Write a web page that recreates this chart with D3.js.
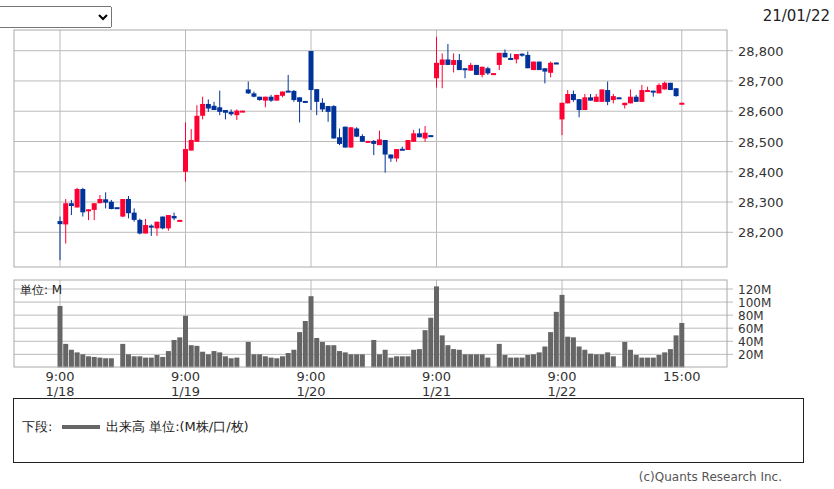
<!DOCTYPE html>
<html><head><meta charset="utf-8">
<script src="https://cdn.jsdelivr.net/npm/d3@7"></script>
<style>
body{margin:0;background:#fff;font-family:"DejaVu Sans",sans-serif;}
select{position:absolute;left:-2px;top:6px;width:114px;height:22px;font-size:12px;}
</style></head><body>
<select><option></option></select>
<svg id="c" width="834" height="489" style="position:absolute;left:0;top:0;pointer-events:none"></svg>
<script>
// OHLC per 15-min slot, 22 slots per day (slot 10 = lunch dash)
const opens = [
28237,28226,28296,28282,28343,28272,28274,28296,28309,28301,28283,28252,28310,28265,28241,28196,28222,28213,28252,28213,28254,28240,
28400,28470,28499,28585,28624,28618,28613,28604,28598,28587,28601,28672,28659,28648,28635,28648,28635,28651,28668,28667,28646,28634,
28799,28673,28628,28617,28617,28514,28549,28480,28543,28518,28501,28502,28488,28505,28457,28444,28476,28472,28499,28527,28510,28521,
28709,28753,28771,28753,28769,28742,28734,28753,28720,28742,28725,28753,28793,28776,28771,28790,28786,28736,28764,28742,28727,28761,
28573,28626,28657,28640,28604,28646,28631,28631,28670,28637,28646,28620,28626,28648,28631,28669,28668,28659,28672,28694,28676,28626];
const highs = [
28252,28310,28307,28347,28347,28276,28296,28323,28332,28307,28283,28310,28320,28279,28245,28244,28226,28235,28252,28257,28265,28241,
28563,28541,28620,28648,28639,28631,28668,28604,28606,28606,28602,28698,28665,28648,28648,28654,28654,28665,28720,28670,28646,28634,
28799,28673,28643,28617,28620,28543,28549,28547,28547,28524,28502,28505,28536,28505,28457,28475,28483,28505,28538,28543,28551,28521,
28846,28791,28822,28791,28789,28742,28760,28753,28747,28747,28726,28793,28804,28791,28789,28791,28797,28764,28764,28742,28764,28761,
28628,28670,28668,28640,28657,28657,28657,28672,28698,28657,28646,28628,28672,28654,28687,28681,28668,28692,28698,28694,28676,28628];
const lows = [
28108,28163,28257,28282,28252,28240,28240,28296,28279,28276,28282,28250,28246,28235,28193,28196,28188,28188,28210,28205,28240,28240,
28367,28470,28499,28573,28598,28604,28587,28573,28585,28571,28601,28657,28646,28635,28613,28631,28635,28646,28665,28631,28563,28633,
28604,28587,28598,28565,28510,28488,28480,28480,28514,28499,28501,28455,28488,28397,28433,28433,28474,28472,28499,28514,28499,28519,
28678,28676,28753,28728,28736,28709,28734,28720,28712,28720,28725,28736,28778,28769,28758,28780,28742,28736,28736,28692,28712,28759,
28521,28626,28631,28580,28604,28635,28631,28631,28620,28626,28645,28609,28626,28631,28631,28665,28648,28659,28672,28670,28648,28626];
const closes = [
28227,28296,28287,28343,28266,28276,28296,28310,28298,28277,28282,28310,28263,28241,28196,28224,28219,28235,28213,28257,28246,28241,
28475,28505,28585,28624,28609,28604,28598,28595,28590,28602,28602,28659,28648,28637,28648,28635,28654,28665,28666,28637,28631,28633,
28670,28631,28606,28598,28510,28492,28480,28547,28516,28499,28502,28492,28507,28457,28444,28475,28474,28505,28527,28514,28529,28519,
28760,28771,28753,28769,28736,28736,28753,28720,28747,28725,28726,28793,28778,28775,28789,28788,28742,28764,28736,28731,28760,28759,
28628,28657,28637,28604,28646,28635,28648,28672,28631,28650,28645,28628,28648,28631,28670,28670,28666,28687,28694,28670,28650,28628];
const volumes = [
94,36,27,23,20,17,16,15,14,14,0,36,20,17,17,15,15,19,16,25,42,46,
79,34,33,24,20,25,23,17,14,15,0,39,20,20,17,15,14,17,22,27,54,71,
109,45,39,34,34,25,23,20,20,20,0,42,20,27,15,17,17,17,27,28,57,76,
124,49,34,28,27,20,20,20,20,15,0,36,19,15,15,15,19,20,23,32,54,85,
111,47,46,32,27,21,20,20,23,17,0,39,27,19,15,15,15,19,23,28,49,68];
const priceTicks = [28200,28300,28400,28500,28600,28700,28800];
const volTicks = [20,40,60,80,100,120];
const timeLabels = ["9:00","9:00","9:00","9:00","9:00","15:00"];
const dateLabels = ["1/18","1/19","1/20","1/21","1/22",""];
const labelSlots = [0,22,44,66,88,109];

const svg = d3.select("#c");
const L=14,R=727;
const x = d3.scaleLinear().domain([0,109]).range([60,681.8]);
const y = d3.scaleLinear().domain([28800,28200]).range([50.7,232.3]);
const yv = d3.scaleLinear().domain([0,120]).range([367.4,289]);
const grid="#bbb";

const pg = svg.append("g");
priceTicks.forEach(t=>{
  pg.append("line").attr("x1",L).attr("x2",733).attr("y1",y(t)).attr("y2",y(t)).attr("stroke",grid);
  pg.append("text").attr("x",738).attr("y",y(t)+5).attr("font-size",13).attr("fill","#333").text(d3.format(",")(t));
});
labelSlots.forEach(s=>{
  pg.append("line").attr("x1",x(s)).attr("x2",x(s)).attr("y1",30).attr("y2",267).attr("stroke",grid);
});
pg.append("rect").attr("x",L).attr("y",30).attr("width",R-L).attr("height",237).attr("fill","none").attr("stroke","#aaa");

const up="#ff0033",dn="#003399";
closes.forEach((c,i)=>{
  const o=opens[i], col = c>=o?up:dn;
  pg.append("line").attr("x1",x(i)).attr("x2",x(i)).attr("y1",y(highs[i])).attr("y2",y(lows[i])).attr("stroke",col).attr("stroke-width",1);
  const t=Math.min(y(o),y(c)), h=Math.max(2,Math.abs(y(o)-y(c)));
  pg.append("rect").attr("x",x(i)-2.5).attr("y",t).attr("width",5).attr("height",h).attr("fill",col);
});

const vg = svg.append("g");
volTicks.forEach(t=>{
  vg.append("line").attr("x1",L).attr("x2",733).attr("y1",yv(t)).attr("y2",yv(t)).attr("stroke",grid);
  vg.append("text").attr("x",738).attr("y",yv(t)+5).attr("font-size",12).attr("fill","#333").text(t+"M");
});
labelSlots.forEach(s=>{
  vg.append("line").attr("x1",x(s)).attr("x2",x(s)).attr("y1",280).attr("y2",367).attr("stroke",grid);
});
volumes.forEach((v,i)=>{ if(v>0)
  vg.append("rect").attr("x",x(i)-2.5).attr("y",yv(v)).attr("width",5).attr("height",yv(0)-yv(v)).attr("fill","#666");
});
vg.append("rect").attr("x",L).attr("y",280).attr("width",R-L).attr("height",87).attr("fill","none").attr("stroke","#aaa");
vg.append("text").attr("x",20).attr("y",294).attr("font-size",12).attr("fill","#222").text("単位: M");

labelSlots.forEach((s,i)=>{
  svg.append("text").attr("x",x(s)).attr("y",381).attr("text-anchor","middle").attr("font-size",13).attr("fill","#333").text(timeLabels[i]);
  svg.append("text").attr("x",x(s)).attr("y",396).attr("text-anchor","middle").attr("font-size",13).attr("fill","#333").text(dateLabels[i]);
});

svg.append("text").attr("x",830).attr("y",21).attr("text-anchor","end").attr("font-size",15).attr("fill","#222").text("21/01/22");

svg.append("rect").attr("x",13.5).attr("y",398.5).attr("width",790).attr("height",64).attr("fill","none").attr("stroke","#222");
svg.append("text").attr("x",22).attr("y",431).attr("font-size",13).attr("fill","#222").text("下段:");
svg.append("line").attr("x1",62).attr("x2",100).attr("y1",427).attr("y2",427).attr("stroke","#666").attr("stroke-width",4);
svg.append("text").attr("x",106).attr("y",431).attr("font-size",13).attr("fill","#222").text("出来高 単位:(M株/口/枚)");
svg.append("text").attr("x",782).attr("y",481).attr("text-anchor","end").attr("font-size",12).attr("fill","#555").text("(c)Quants Research Inc.");
</script></body></html>
